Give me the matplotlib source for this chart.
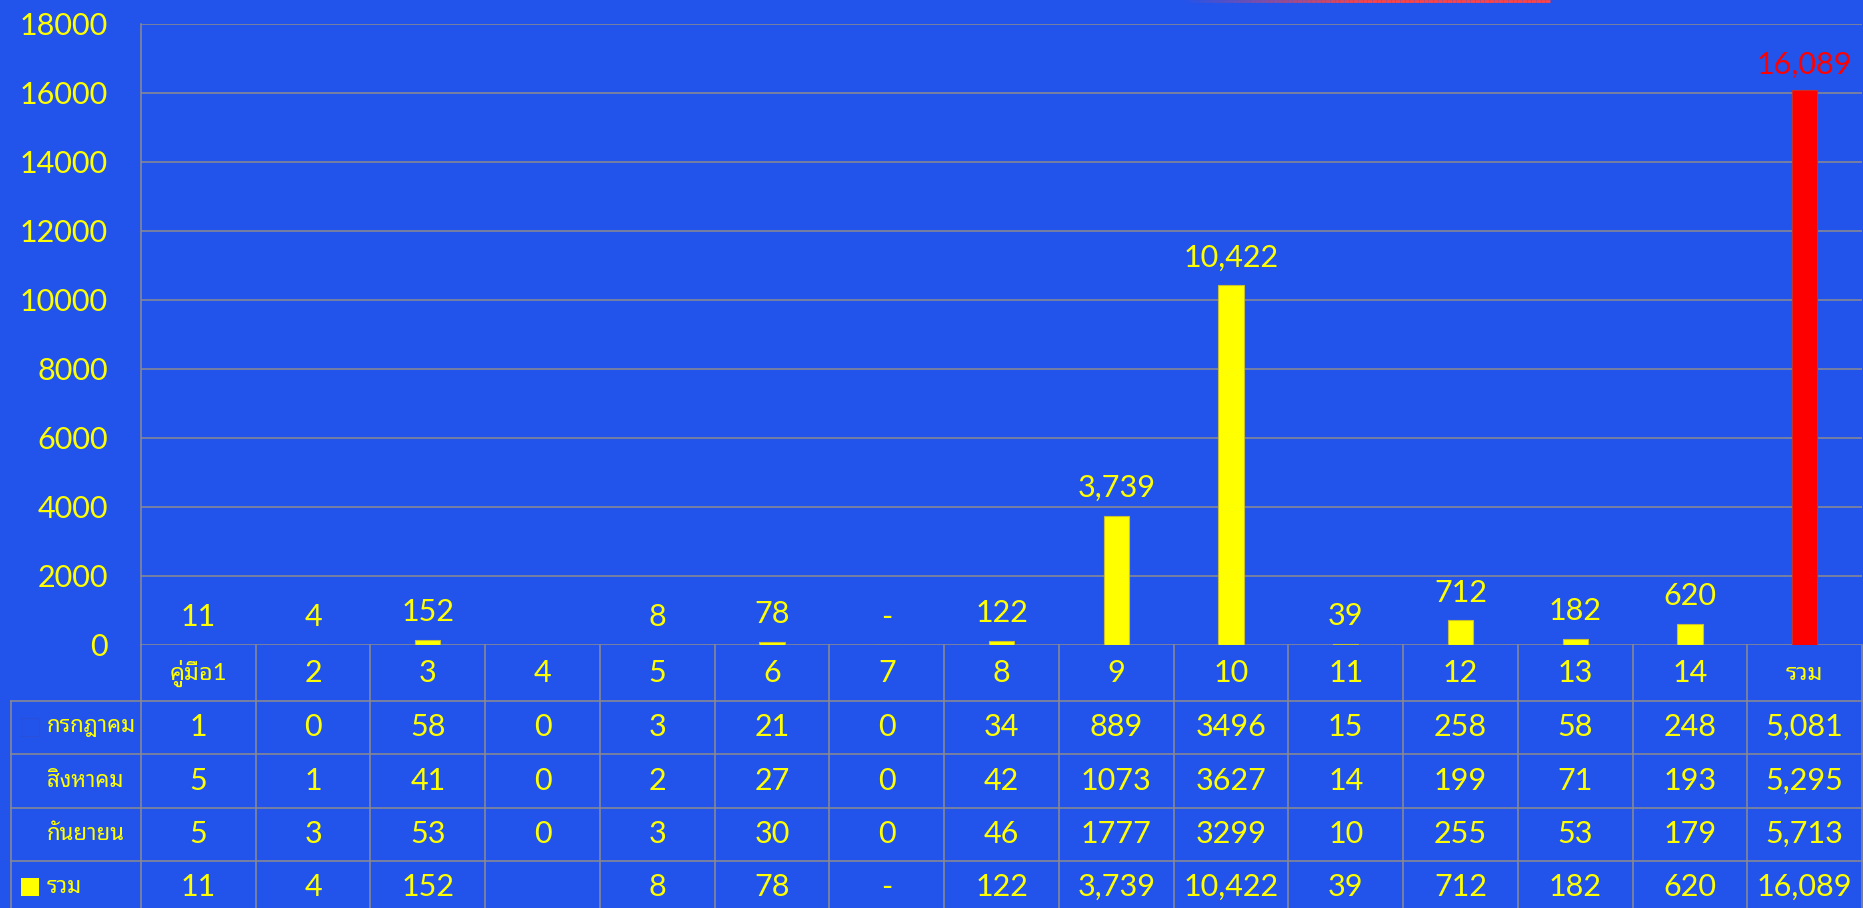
#!/usr/bin/env python3
from __future__ import annotations

import matplotlib

matplotlib.use("Agg")
import matplotlib.pyplot as plt
import matplotlib.transforms as mtransforms
import numpy as np
from matplotlib import font_manager
from matplotlib.collections import LineCollection
from matplotlib.patches import Rectangle


W, H = 1863, 908

categories = ["คู่มือ1", "2", "3", "4", "5", "6", "7", "8", "9", "10", "11", "12", "13", "14", "รวม"]
row_names = ["กรกฎาคม", "สิงหาคม", "กันยายน", "รวม"]
july = [1, 0, 58, 0, 3, 21, 0, 34, 889, 3496, 15, 258, 58, 248, 5081]
august = [5, 1, 41, 0, 2, 27, 0, 42, 1073, 3627, 14, 199, 71, 193, 5295]
september = [5, 3, 53, 0, 3, 30, 0, 46, 1777, 3299, 10, 255, 53, 179, 5713]
# None = empty cell in the source sheet, 0 = shown as "-"
total = [11, 4, 152, None, 8, 78, 0, 122, 3739, 10422, 39, 712, 182, 620, 16089]
yticks = [0, 2000, 4000, 6000, 8000, 10000, 12000, 14000, 16000, 18000]

BG = "#2254EC"
YELLOW = "#FFFF00"
RED = "#FF0000"
GRID = "#8C8C8C"


def pick_family(candidates: list[str]) -> str:
    names = {f.name for f in font_manager.fontManager.ttflist}
    for name in candidates:
        if name in names:
            return name
    return "DejaVu Sans"


NUM_FONT = pick_family(["Lato", "Open Sans", "DejaVu Sans"])
THAI_FONT = pick_family(["Noto Sans Thai Looped", "Noto Sans Thai", "Sarabun", "Anuphan", "Athiti"])
FAMILY = [NUM_FONT, THAI_FONT, "DejaVu Sans"]
plt.rcParams["font.family"] = FAMILY


def fmt_total(v: int | None) -> str:
    if v is None:
        return ""
    if v == 0:
        return "-"
    return f"{v:,}"


def fy(px: float) -> float:
    return 1 - px / H


def main() -> None:
    fig = plt.figure(figsize=(W / 100, H / 100), dpi=100, facecolor=BG)
    ax = fig.add_axes([141 / W, fy(645), (1862 - 141) / W, (645 - 23.7) / H])
    ax.set_facecolor(BG)

    x = np.arange(len(categories))
    heights = [v or 0 for v in total]
    colors = [YELLOW] * (len(categories) - 1) + [RED]
    edges = ["#C8C030"] * (len(categories) - 1) + ["#C83030"]
    ax.bar(x, heights, width=0.22, color=colors, edgecolor=edges, linewidth=0.8, zorder=3)

    for i, v in enumerate(total):
        label = fmt_total(v)
        if not label:
            continue
        last = i == len(categories) - 1
        ax.annotate(label, (x[i], heights[i]), xytext=(0, 8 if last else 10), textcoords="offset points",
                    ha="center", va="bottom", fontsize=22, color=RED if last else YELLOW)

    ax.set_xlim(-0.5, len(categories) - 0.5)
    ax.set_ylim(0, 18000)
    ax.set_yticks(yticks)
    ax.set_yticklabels([str(t) for t in yticks])
    ax.tick_params(axis="y", length=0, pad=24, labelsize=22, labelcolor=YELLOW)
    ax.set_xticks([])
    ax.grid(axis="y", color=GRID, linewidth=1.1)
    ax.set_axisbelow(True)
    for side in ["top", "right", "bottom"]:
        ax.spines[side].set_visible(False)
    ax.spines["left"].set_color(GRID)
    ax.spines["left"].set_linewidth(1.1)

    # data table under the chart
    trans = mtransforms.blended_transform_factory(ax.transData, fig.transFigure)
    left_x = -0.5 - (141 - 10.7) / ((1862 - 141) / len(categories))
    right_x = len(categories) - 0.5
    row_lines = [700.7, 754, 807.5, 861]
    line_kw = dict(color=GRID, linewidth=1.1, transform=trans, clip_on=False)
    for py in row_lines:
        ax.plot([left_x, right_x], [fy(py), fy(py)], **line_kw)
    for k in range(len(categories) + 1):
        ax.plot([k - 0.5, k - 0.5], [fy(645), 0], **line_kw)
    ax.plot([left_x, left_x], [fy(700.7), 0], **line_kw)

    for i, cat in enumerate(categories):
        ax.text(x[i], fy(673), cat, transform=trans, ha="center", va="center",
                fontsize=22 if cat.isdigit() else 17, color=YELLOW)

    row_centers = [727, 781, 834, 887]
    month_rows = [july, august, september]
    for r, vals in enumerate(month_rows):
        for i, v in enumerate(vals):
            s = f"{v:,}" if i == len(vals) - 1 else str(v)
            ax.text(x[i], fy(row_centers[r]), s, transform=trans, ha="center", va="center",
                    fontsize=22, color=YELLOW)
    for i, v in enumerate(total):
        ax.text(x[i], fy(row_centers[3]), fmt_total(v), transform=trans, ha="center", va="center",
                fontsize=22, color=YELLOW)

    for r, name in enumerate(row_names):
        fig.text(47 / W, fy(row_centers[r]), name, ha="left", va="center", fontsize=16, color=YELLOW)

    # legend keys in the row headers
    fig.add_artist(Rectangle((21 / W, fy(row_centers[0] + 9)), 18 / W, 18 / H, transform=fig.transFigure,
                             facecolor=BG, edgecolor="#2A4FD8", linewidth=1))
    fig.add_artist(Rectangle((21 / W, fy(row_centers[3] + 9)), 18 / W, 18 / H, transform=fig.transFigure,
                             facecolor=YELLOW, edgecolor="none"))

    # faint red rule along the top edge (cropped slide decoration)
    xs = np.linspace(1180, 1550, 80)
    segs = [[(xs[j] / W, 1 - 1 / H), (xs[j + 1] / W, 1 - 1 / H)] for j in range(len(xs) - 1)]
    alphas = np.clip(np.linspace(0, 2, len(segs)), 0, 1)
    seg_colors = [(1.0, 0.27, 0.27, a) for a in alphas]
    fig.add_artist(LineCollection(segs, colors=seg_colors, linewidths=2, transform=fig.transFigure))

    fig.savefig("out.png", dpi=100, facecolor=BG)
    plt.close(fig)


if __name__ == "__main__":
    main()
